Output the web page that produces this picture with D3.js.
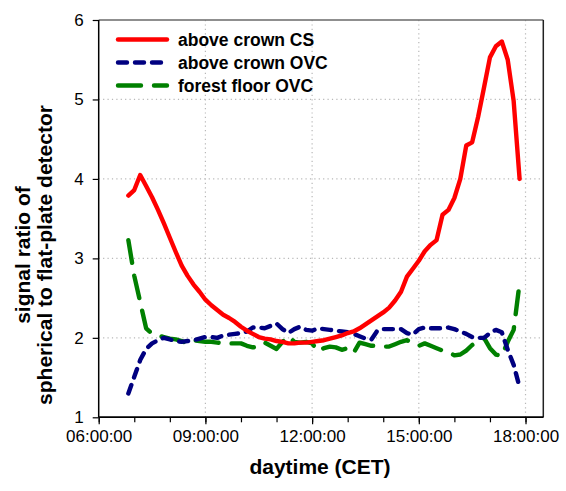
<!DOCTYPE html>
<html>
<head>
<meta charset="utf-8">
<script src="https://cdn.jsdelivr.net/npm/d3@7/dist/d3.min.js"></script>
<style>
  html, body { margin: 0; padding: 0; background: #fff; }
  svg { display: block; font-family: "Liberation Sans", Arial, sans-serif; }
</style>
</head>
<body>
<svg id="chart" width="566" height="491"></svg>
<script>
// ---- data ----
const times = ["06:50","07:00","07:10","07:20","07:30","07:40","07:50",
  "08:00","08:10","08:20","08:30","08:40","08:50",
  "09:00","09:10","09:20","09:30","09:40","09:50",
  "10:00","10:10","10:20","10:30","10:40","10:50",
  "11:00","11:10","11:20","11:30","11:40","11:50",
  "12:00","12:10","12:20","12:30","12:40","12:50",
  "13:00","13:10","13:20","13:30","13:40","13:50",
  "14:00","14:10","14:20","14:30","14:40","14:50",
  "15:00","15:10","15:20","15:30","15:40","15:50",
  "16:00","16:10","16:20","16:30","16:40","16:50",
  "17:00","17:10","17:20","17:30","17:40","17:50"];

const aboveCrownCS = [3.79,3.86,4.05,3.91,3.77,3.61,3.44,3.26,3.08,2.91,
  2.78,2.67,2.58,2.48,2.41,2.35,2.29,2.25,2.20,2.14,
  2.09,2.05,2.01,1.99,1.98,1.96,1.95,1.93,1.93,1.94,
  1.94,1.95,1.96,1.97,1.99,2.01,2.03,2.06,2.08,2.12,
  2.17,2.22,2.27,2.32,2.38,2.47,2.58,2.77,2.87,2.97,
  3.09,3.17,3.23,3.55,3.61,3.76,4.00,4.42,4.46,4.78,
  5.15,5.53,5.67,5.73,5.50,4.98,4.00];

const aboveCrownOVC = [1.30,1.51,1.72,1.86,1.93,1.97,2.00,1.98,1.96,1.95,
  1.96,1.97,1.99,2.01,2.01,2.00,2.03,2.04,2.05,2.06,
  2.08,2.13,2.13,2.12,2.15,2.18,2.11,2.06,2.11,2.14,
  2.10,2.09,2.12,2.11,2.10,2.09,2.08,2.07,2.05,2.02,
  1.99,1.98,2.09,2.11,2.11,2.11,2.11,2.06,2.04,2.11,
  2.13,2.12,2.12,2.12,2.13,2.11,2.08,2.05,2.01,2.00,
  2.00,2.06,2.10,2.07,1.85,1.66,1.38];

const forestFloorOVC = [3.23,2.78,2.45,2.12,2.05,2.03,2.01,1.99,1.98,1.96,
  1.93,1.97,1.96,1.95,1.95,1.94,1.93,1.93,1.93,1.93,
  1.90,1.88,1.89,1.94,1.90,1.86,1.95,2.02,1.95,1.94,
  1.95,1.93,1.83,1.87,1.89,1.88,1.85,1.87,1.81,1.94,
  1.92,1.90,1.90,1.89,1.89,1.92,1.95,1.97,1.94,1.90,
  1.93,1.90,1.87,1.84,1.82,1.78,1.79,1.84,1.91,1.96,
  2.00,1.87,1.79,1.77,1.95,2.10,2.69];

const yTicks = [1,2,3,4,5,6];
const xMajorTicks = ["06:00","09:00","12:00","15:00","18:00"];
const xMinorTicks = ["06:00","07:00","08:00","09:00","10:00","11:00","12:00",
  "13:00","14:00","15:00","16:00","17:00","18:00"];
const xDomain = ["06:00","18:30"];

const seriesNames = ["above crown CS","above crown OVC","forest floor OVC"];

// ---- setup ----
const parse = d3.timeParse("%H:%M");
const svg = d3.select("#chart");
const L = 98.7, R = 543.3, T = 20, B = 417.3;

const x = d3.scaleTime().domain(xDomain.map(parse)).range([L, R]);
const y = d3.scaleLinear().domain([1, 6]).range([B, T]);

svg.append("rect").attr("width", 566).attr("height", 491).attr("fill", "#fff");

// gridlines
const grid = svg.append("g").attr("stroke", "#b8b8b8").attr("stroke-width", 1.2)
  .attr("stroke-dasharray", "1.2,3.2");
grid.selectAll("line.h").data(yTicks.filter(v => v > 1 && v < 6)).join("line")
  .attr("x1", L).attr("x2", R).attr("y1", d => y(d)).attr("y2", d => y(d));
grid.selectAll("line.v").data(xMajorTicks.slice(1)).join("line")
  .attr("y1", T).attr("y2", B).attr("x1", d => x(parse(d))).attr("x2", d => x(parse(d)));

// frame top/right
svg.append("line").attr("x1", L).attr("x2", R).attr("y1", T).attr("y2", T)
  .attr("stroke", "#6a6a6a").attr("stroke-width", 1.5);
svg.append("line").attr("x1", R).attr("x2", R).attr("y1", T).attr("y2", B)
  .attr("stroke", "#222").attr("stroke-width", 1.5);

// axes
const yAxis = svg.append("g").attr("transform", `translate(${L},0)`)
  .call(d3.axisLeft(y).tickValues(yTicks).tickSize(6).tickPadding(9).tickFormat(d3.format("d")));
const xMinor = svg.append("g").attr("transform", `translate(0,${B})`)
  .call(d3.axisBottom(x).tickValues(xMinorTicks.map(parse)).tickSize(5).tickFormat(""));
const xAxis = svg.append("g").attr("transform", `translate(0,${B})`)
  .call(d3.axisBottom(x).tickValues(xMajorTicks.map(parse)).tickSize(7).tickPadding(6)
    .tickFormat(d3.timeFormat("%H:%M:%S")));
[yAxis, xMinor, xAxis].forEach(g => {
  g.selectAll(".domain").attr("stroke", "#000").attr("stroke-width", 1.5);
  g.selectAll(".tick line").attr("stroke", "#000").attr("stroke-width", 1.2);
  g.selectAll("text").attr("font-size", 17).attr("fill", "#000")
    .attr("font-family", '"Liberation Sans", Arial, sans-serif');
});
xMinor.select(".domain").attr("d", `M${L},0H${R}`);
xAxis.select(".domain").attr("d", `M${L},0H${R}`);
yAxis.select(".domain").attr("d", `M0,${B}V${T}`);

// lines
const seriesData = [aboveCrownCS, aboveCrownOVC, forestFloorOVC];
const styles = [
  { color: "#ff0000", dash: null },
  { color: "#000080", dash: "9,8" },
  { color: "#008000", dash: "23,13" }
];
const lineGen = d3.line()
  .x((d, i) => x(parse(times[i])))
  .y(d => y(d));

[2, 1, 0].forEach(si => {
  svg.append("path").datum(seriesData[si])
    .attr("d", lineGen)
    .attr("fill", "none")
    .attr("stroke", styles[si].color)
    .attr("stroke-width", 4.4)
    .attr("stroke-linecap", "round")
    .attr("stroke-linejoin", "round")
    .attr("stroke-dasharray", styles[si].dash);
});

// legend
const legY = [39.5, 62.5, 85.5];
const leg = svg.append("g");
seriesNames.forEach((name, i) => {
  leg.append("line").attr("x1", 118).attr("x2", 167).attr("y1", legY[i]).attr("y2", legY[i])
    .attr("stroke", styles[i].color).attr("stroke-width", 4.4)
    .attr("stroke-linecap", "round").attr("stroke-dasharray", styles[i].dash);
  leg.append("text").attr("x", 178).attr("y", legY[i]).attr("dy", "0.36em")
    .attr("font-size", 17.5).attr("font-weight", "bold").attr("fill", "#000").text(name);
});

// titles
svg.append("text").attr("x", 320).attr("y", 474).attr("text-anchor", "middle")
  .attr("font-size", 21).attr("font-weight", "bold").text("daytime (CET)");
const yt = svg.append("g").attr("transform", "translate(0,255) rotate(-90)");
yt.append("text").attr("x", 0).attr("y", 22).attr("dy", "0.36em").attr("text-anchor", "middle")
  .attr("font-size", 21).attr("font-weight", "bold").text("signal ratio of");
yt.append("text").attr("x", 0).attr("y", 44).attr("dy", "0.36em").attr("text-anchor", "middle")
  .attr("font-size", 21).attr("font-weight", "bold").text("spherical to flat-plate detector");
</script>
</body>
</html>
